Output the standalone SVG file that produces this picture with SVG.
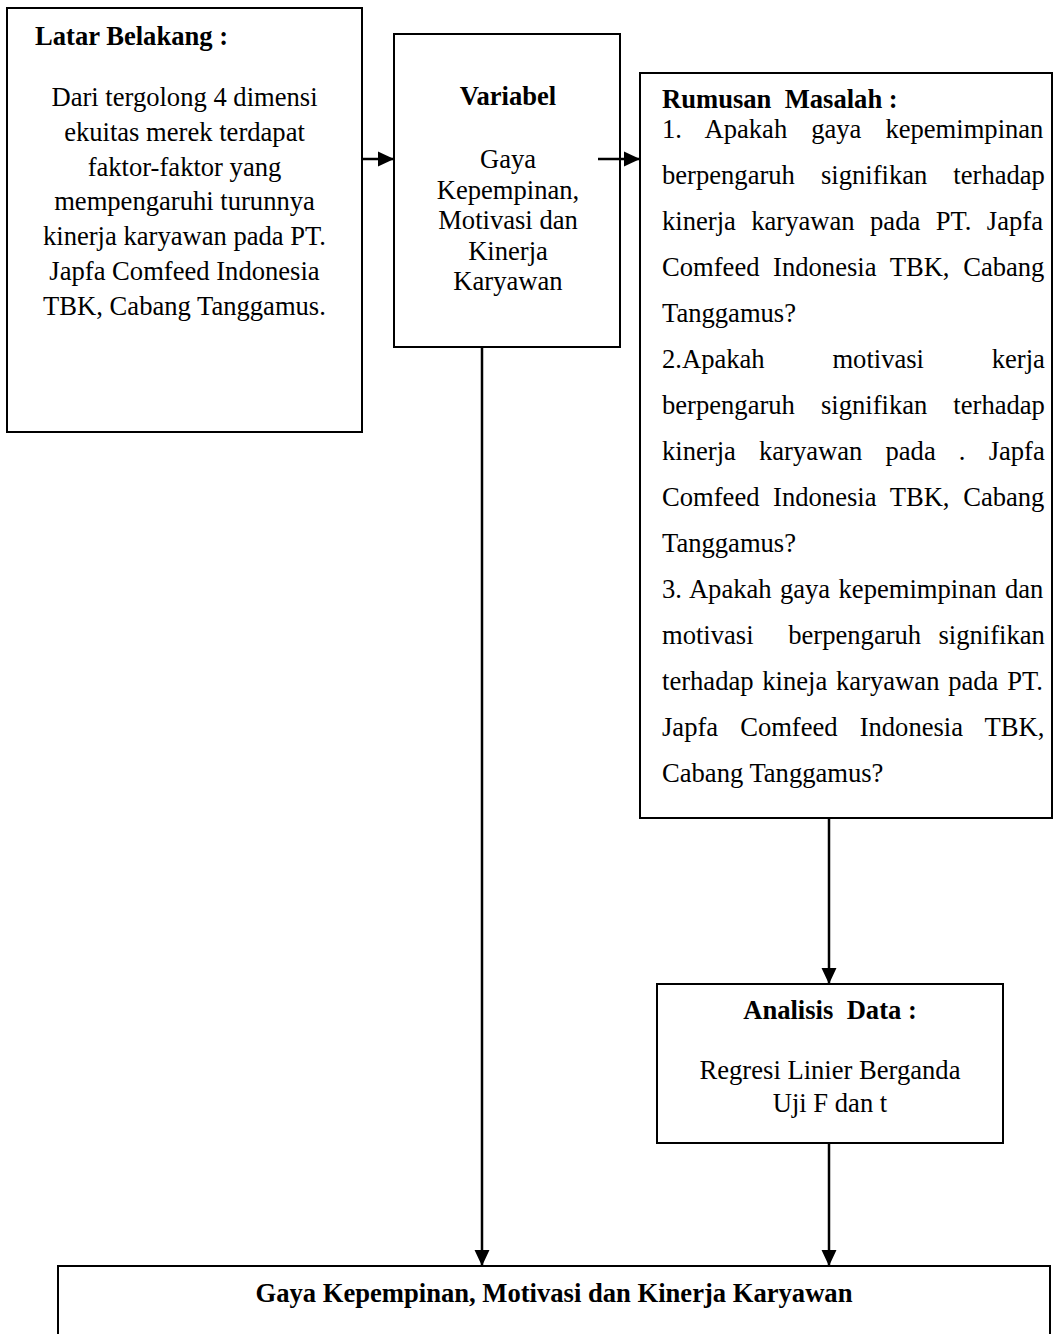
<svg xmlns="http://www.w3.org/2000/svg" width="1054" height="1334" viewBox="0 0 1054 1334">
<style>
.box{fill:#fff;stroke:#000;stroke-width:2}
.t{font-family:"Liberation Serif","Times New Roman",serif;font-size:26.6px;fill:#000}
.b{font-weight:bold}
.c{text-anchor:middle}
.ln{stroke:#000;stroke-width:2.5;fill:none}
</style>
<defs>
<marker id="ah" markerUnits="userSpaceOnUse" markerWidth="16" markerHeight="16" refX="15" refY="7.5" orient="auto" viewBox="0 0 15 15"><path d="M0,0.5 L15,7.5 L0,14.5 z" fill="#000"/></marker>
</defs>
<rect width="1054" height="1334" fill="#fff"/>
<g id="latar">
<rect class="box" x="7" y="8" width="355" height="424"/>
<text class="t b" x="35" y="45">Latar Belakang :</text>
<text class="t c" x="184.5" y="106">Dari tergolong 4 dimensi</text>
<text class="t c" x="184.5" y="140.8">ekuitas merek terdapat</text>
<text class="t c" x="184.5" y="175.6">faktor-faktor yang</text>
<text class="t c" x="184.5" y="210.4">mempengaruhi turunnya</text>
<text class="t c" x="184.5" y="245.2">kinerja karyawan pada PT.</text>
<text class="t c" x="184.5" y="280">Japfa Comfeed Indonesia</text>
<text class="t c" x="184.5" y="314.8">TBK, Cabang Tanggamus.</text>
</g>
<g id="variabel">
<rect class="box" x="394" y="34" width="226" height="313"/>
<text class="t b c" x="508" y="105">Variabel</text>
<text class="t c" x="508" y="168">Gaya</text>
<text class="t c" x="508" y="198.5">Kepempinan,</text>
<text class="t c" x="508" y="229">Motivasi dan</text>
<text class="t c" x="508" y="259.5">Kinerja</text>
<text class="t c" x="508" y="290">Karyawan</text>
</g>
<g id="rumusan">
<rect class="box" x="640" y="73" width="412" height="745"/>
<text class="t b" x="662" y="108" xml:space="preserve">Rumusan  Masalah :</text>
<text class="t" x="662" y="138" word-spacing="17.35">1. Apakah gaya kepemimpinan</text>
<text class="t" x="662" y="184" word-spacing="19.4">berpengaruh signifikan terhadap</text>
<text class="t" x="662" y="230" word-spacing="8.78">kinerja karyawan pada PT. Japfa</text>
<text class="t" x="662" y="276" word-spacing="6.99">Comfeed Indonesia TBK, Cabang</text>
<text class="t" x="662" y="322">Tanggamus?</text>
<text class="t" x="662" y="368" word-spacing="61.1">2.Apakah motivasi kerja</text>
<text class="t" x="662" y="414" word-spacing="19.4">berpengaruh signifikan terhadap</text>
<text class="t" x="662" y="460" word-spacing="16.5">kinerja karyawan pada . Japfa</text>
<text class="t" x="662" y="506" word-spacing="6.99">Comfeed Indonesia TBK, Cabang</text>
<text class="t" x="662" y="552">Tanggamus?</text>
<text class="t" x="662" y="598" word-spacing="1.75">3. Apakah gaya kepemimpinan dan</text>
<text class="t" x="662" y="644" word-spacing="10.68" xml:space="preserve">motivasi  berpengaruh signifikan</text>
<text class="t" x="662" y="690" word-spacing="2.12">terhadap kineja karyawan pada PT.</text>
<text class="t" x="662" y="736" word-spacing="15.38">Japfa Comfeed Indonesia TBK,</text>
<text class="t" x="662" y="782">Cabang Tanggamus?</text>
</g>
<g id="analisis">
<rect class="box" x="657" y="984" width="346" height="159"/>
<text class="t b c" x="830" y="1019" xml:space="preserve">Analisis  Data :</text>
<text class="t c" x="830" y="1079">Regresi Linier Berganda</text>
<text class="t c" x="830" y="1112">Uji F dan t</text>
</g>
<g id="hasil">
<rect class="box" x="58" y="1266" width="992" height="100"/>
<text class="t b c" x="554" y="1302">Gaya Kepempinan, Motivasi dan Kinerja Karyawan</text>
</g>
<g id="connectors">
<path class="ln" d="M362,159 H394" marker-end="url(#ah)"/>
<path class="ln" d="M598,159 H640" marker-end="url(#ah)"/>
<path class="ln" d="M482,347 V1266" marker-end="url(#ah)"/>
<path class="ln" d="M829,818 V984" marker-end="url(#ah)"/>
<path class="ln" d="M829,1143 V1266" marker-end="url(#ah)"/>
</g>
</svg>
